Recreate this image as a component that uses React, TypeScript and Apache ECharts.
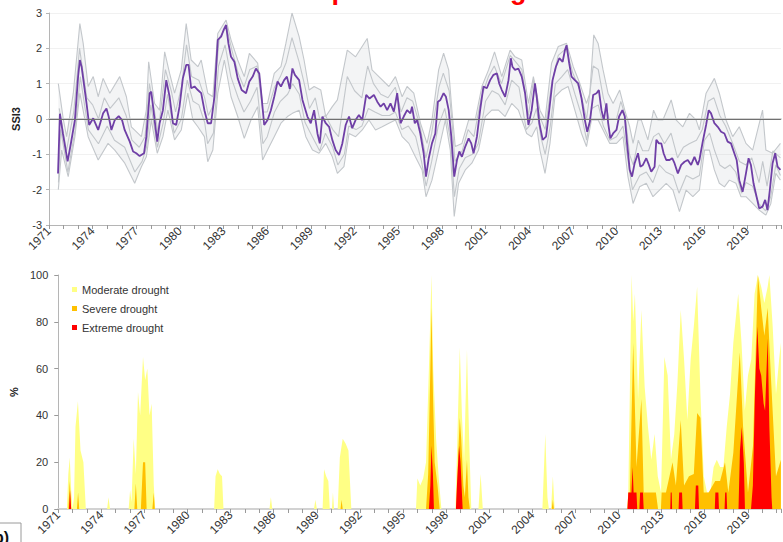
import { useEffect, useRef } from 'react';
import * as echarts from 'echarts';

// ---------- data ----------
const seriesNames = ['Moderate drought', 'Severe drought', 'Extreme drought'];
const ssiTickValues = [-3, -2, -1, 0, 1, 2, 3];

// SSI3 (purple) [year, value]
const ssiMain: [number, number][] = [
  [1971.62,-1.54],[1971.75,0.15],[1971.95,-0.4],[1972.28,-1.2],[1972.5,-0.7],[1972.78,-0.03],[1973.0,1.2],[1973.12,1.67],[1973.24,1.48],[1973.58,0.44],[1973.76,-0.17],[1974.04,0.02],[1974.38,-0.31],[1974.72,0.16],[1974.95,0.3],[1975.1,0.07],[1975.29,-0.31],[1975.52,-0.03],[1975.79,0.08],[1976.02,-0.03],[1976.2,-0.31],[1976.55,-0.64],[1976.78,-0.92],[1977.0,-0.97],[1977.23,-1.05],[1977.53,-0.97],[1977.69,-0.5],[1977.92,0.73],[1978.03,0.77],[1978.26,-0.03],[1978.44,-0.64],[1978.6,-0.12],[1978.83,0.25],[1979.06,1.1],[1979.29,0.63],[1979.52,-0.12],[1979.74,-0.17],[1979.97,0.35],[1980.2,1.15],[1980.43,1.53],[1980.59,1.53],[1980.77,0.87],[1981.0,0.92],[1981.23,0.82],[1981.46,0.73],[1981.68,0.25],[1981.91,-0.12],[1982.14,-0.12],[1982.37,0.63],[1982.6,2.24],[1982.83,2.33],[1983.0,2.52],[1983.17,2.66],[1983.33,2.14],[1983.51,1.76],[1983.74,1.62],[1983.97,1.15],[1984.24,0.82],[1984.54,0.73],[1984.77,1.06],[1985.0,1.2],[1985.22,1.43],[1985.45,1.29],[1985.61,0.63],[1985.79,-0.17],[1986.02,-0.03],[1986.25,0.25],[1986.48,0.63],[1986.71,1.06],[1986.94,0.92],[1987.16,1.1],[1987.35,1.2],[1987.55,0.85],[1987.73,1.43],[1987.9,1.25],[1988.19,1.1],[1988.42,0.54],[1988.76,0.07],[1988.99,-0.12],[1989.22,0.25],[1989.45,-0.41],[1989.61,-0.69],[1989.79,0.07],[1990.02,-0.12],[1990.25,-0.22],[1990.47,-0.59],[1990.7,-0.88],[1990.93,-1.02],[1991.16,-0.69],[1991.39,-0.17],[1991.62,0.07],[1991.84,-0.26],[1992.07,-0.03],[1992.3,0.11],[1992.53,-0.03],[1992.8,0.68],[1993.03,0.58],[1993.33,0.68],[1993.56,0.49],[1993.79,0.35],[1994.01,0.44],[1994.24,0.25],[1994.47,0.44],[1994.7,0.21],[1994.93,0.73],[1995.16,-0.12],[1995.38,0.07],[1995.61,0.25],[1995.84,0.16],[1995.95,0.35],[1996.14,-0.12],[1996.3,-0.03],[1996.52,-0.41],[1996.75,-0.97],[1996.91,-1.63],[1997.1,-1.11],[1997.32,-0.69],[1997.55,-0.41],[1997.73,0.49],[1997.9,0.54],[1998.12,0.73],[1998.28,0.63],[1998.47,0.25],[1998.65,-0.5],[1998.85,-1.63],[1999.04,-1.16],[1999.2,-0.92],[1999.38,-1.07],[1999.61,-0.78],[1999.84,-0.55],[2000.02,-0.69],[2000.18,-0.97],[2000.41,-0.5],[2000.63,0.25],[2000.86,0.92],[2001.09,0.87],[2001.32,1.1],[2001.55,1.25],[2001.78,1.29],[2001.94,1.01],[2002.12,0.82],[2002.35,0.63],[2002.58,1.1],[2002.74,1.72],[2002.85,1.48],[2003.03,1.39],[2003.26,1.43],[2003.49,1.2],[2003.72,0.73],[2003.95,-0.17],[2004.17,0.25],[2004.4,1.01],[2004.52,0.63],[2004.7,-0.12],[2004.93,-0.59],[2005.16,-0.5],[2005.38,0.25],[2005.61,1.1],[2005.84,1.48],[2006.07,1.72],[2006.3,1.62],[2006.46,1.95],[2006.57,2.09],[2006.75,1.58],[2006.91,1.2],[2007.14,1.1],[2007.37,1.01],[2007.6,0.58],[2007.83,-0.03],[2007.99,-0.36],[2008.17,-0.08],[2008.4,0.68],[2008.63,0.73],[2008.79,0.82],[2008.97,0.25],[2009.13,-0.03],[2009.31,0.44],[2009.43,-0.12],[2009.58,-0.55],[2009.77,-0.41],[2010.0,-0.31],[2010.18,0.07],[2010.41,0.25],[2010.57,0.07],[2010.73,-0.69],[2010.91,-1.44],[2011.07,-1.63],[2011.25,-1.25],[2011.48,-0.97],[2011.64,-1.35],[2011.82,-1.3],[2012.05,-1.11],[2012.23,-1.3],[2012.39,-1.49],[2012.62,-1.35],[2012.74,-0.59],[2012.92,-0.69],[2013.08,-0.69],[2013.24,-0.97],[2013.42,-1.16],[2013.65,-1.16],[2013.83,-1.11],[2013.99,-1.25],[2014.22,-1.54],[2014.45,-1.3],[2014.68,-1.21],[2014.9,-1.16],[2015.13,-1.3],[2015.36,-1.07],[2015.59,-1.3],[2015.7,-1.16],[2015.93,-0.64],[2016.16,-0.17],[2016.34,0.25],[2016.5,0.16],[2016.73,-0.12],[2016.96,-0.22],[2017.19,-0.36],[2017.42,-0.41],[2017.64,-0.64],[2017.87,-0.69],[2018.1,-0.97],[2018.26,-1.16],[2018.44,-1.73],[2018.67,-2.06],[2018.9,-1.54],[2019.08,-1.11],[2019.24,-1.3],[2019.42,-1.82],[2019.63,-2.2],[2019.81,-2.53],[2020.04,-2.48],[2020.22,-2.29],[2020.38,-2.58],[2020.54,-2.01],[2020.73,-1.25],[2020.91,-0.97],[2021.07,-1.35],[2021.27,-1.44]
];

// grey ensemble members: upper envelope
const ssiUpper: [number, number][] = [
  [1971.64,1.0],[1971.98,0],[1972.21,-0.5],[1972.67,0.73],[1973.12,2.7],[1973.35,2.14],[1973.69,0.92],[1974.04,1.2],[1974.38,0.63],[1974.72,1.15],[1975.18,0.73],[1975.86,1.2],[1976.32,0.63],[1976.66,-0.22],[1977.35,-0.5],[1977.69,0.25],[1977.85,1.62],[1978.26,0.44],[1978.6,0.25],[1978.95,1.9],[1979.29,1.29],[1979.63,0.73],[1980.09,1.39],[1980.43,2.7],[1980.77,1.67],[1981.23,1.48],[1981.46,1.67],[1981.91,0.73],[1982.26,0.63],[1982.6,2.42],[1983.17,2.8],[1983.51,2.24],[1983.97,1.67],[1984.42,1.2],[1984.77,1.86],[1985.34,1.58],[1985.68,0.44],[1986.02,0.44],[1986.48,1.29],[1986.94,1.48],[1987.28,2.14],[1987.7,3.0],[1988.19,2.33],[1988.53,1.67],[1988.88,0.82],[1989.22,0.92],[1989.68,0.82],[1990.02,0.07],[1990.47,0.35],[1990.82,0.54],[1991.5,1.95],[1992.07,1.76],[1992.87,2.28],[1993.2,1.39],[1993.67,1.2],[1994.36,0.92],[1994.81,1.2],[1995.27,0.63],[1995.61,0.92],[1996.07,0.73],[1996.53,-0.12],[1996.98,-0.69],[1997.32,-0.03],[1997.78,1.39],[1998.12,1.86],[1998.47,1.39],[1998.69,0.25],[1998.92,-0.78],[1999.38,-0.69],[1999.84,-0.03],[2000.29,-0.03],[2000.75,0.92],[2001.21,1.39],[2001.62,1.9],[2002.12,1.2],[2002.69,1.95],[2003.03,1.76],[2003.49,1.67],[2003.95,0.44],[2004.29,1.2],[2004.74,0.25],[2005.09,-0.03],[2005.54,1.58],[2006.0,2.05],[2006.57,2.14],[2007.03,1.48],[2007.48,1.01],[2007.94,0.44],[2008.17,0.73],[2008.44,2.38],[2008.74,2.14],[2009.08,1.39],[2009.42,0.73],[2009.77,0.44],[2010.22,0.82],[2010.57,0.25],[2010.91,-0.22],[2011.14,-0.69],[2011.48,-0.03],[2011.71,-0.03],[2012.16,-0.59],[2012.55,0.25],[2012.85,-0.03],[2013.19,-0.03],[2013.76,0.54],[2014.11,-0.03],[2014.56,-0.22],[2015.02,0.16],[2015.48,-0.03],[2015.7,-0.31],[2016.16,0.73],[2016.73,1.15],[2017.07,0.73],[2017.53,-0.03],[2017.99,-0.5],[2018.44,-0.22],[2018.9,-0.69],[2019.36,-0.88],[2020.04,0.25],[2020.27,-0.88],[2020.73,-0.97],[2021.27,-0.69]
];

// grey ensemble members: lower envelope
const ssiLower: [number, number][] = [
  [1971.64,-2.0],[1971.87,-0.88],[1972.32,-1.63],[1972.78,-0.5],[1973.12,0.73],[1973.69,-0.5],[1974.38,-1.16],[1975.06,-0.69],[1975.52,-0.88],[1976.21,-1.25],[1976.89,-1.82],[1977.35,-1.35],[1977.69,-1.07],[1978.03,-0.03],[1978.44,-0.97],[1978.83,-0.5],[1979.17,0.25],[1979.63,-0.59],[1980.09,-0.31],[1980.54,0.73],[1980.89,-0.03],[1981.23,-0.22],[1981.68,-0.5],[1981.91,-1.21],[1982.26,-0.88],[1982.6,0.73],[1983.05,1.67],[1983.51,0.63],[1983.97,0.07],[1984.42,-0.55],[1984.88,-0.03],[1985.34,0.35],[1985.68,-1.16],[1986.02,-0.88],[1986.48,-0.5],[1986.94,-0.12],[1987.39,0.07],[1987.73,0.16],[1988.19,0.25],[1988.65,-0.5],[1989.11,-0.88],[1989.56,-0.97],[1990.02,-0.69],[1990.47,-1.07],[1990.82,-1.54],[1991.27,-1.35],[1991.62,-0.41],[1992.07,-0.5],[1992.53,-0.31],[1992.99,-0.03],[1993.44,-0.31],[1993.9,-0.22],[1994.36,-0.12],[1994.81,-0.03],[1995.27,-0.5],[1995.73,-0.69],[1996.18,-1.07],[1996.64,-1.44],[1996.91,-2.2],[1997.32,-1.73],[1997.78,-0.88],[1998.24,-0.03],[1998.58,-0.88],[1998.85,-2.76],[1999.15,-1.82],[1999.61,-1.44],[2000.06,-1.25],[2000.52,-0.88],[2000.98,0.07],[2001.43,0.25],[2001.89,0.25],[2002.35,0.07],[2002.8,0.44],[2003.26,0.25],[2003.83,-0.41],[2004.17,-0.5],[2004.52,-0.22],[2004.74,-0.88],[2005.09,-1.54],[2005.43,-0.69],[2005.77,0.63],[2006.23,0.82],[2006.68,0.92],[2007.14,0.25],[2007.6,-0.41],[2007.94,-0.78],[2008.28,-0.03],[2008.74,-0.03],[2009.08,-0.31],[2009.54,-0.69],[2010.0,-0.69],[2010.45,-0.5],[2010.79,-1.63],[2011.14,-2.39],[2011.59,-1.92],[2012.05,-1.82],[2012.51,-2.2],[2012.96,-2.01],[2013.42,-1.82],[2013.88,-2.01],[2014.33,-2.62],[2014.79,-2.01],[2015.25,-2.2],[2015.7,-2.01],[2016.05,-0.88],[2016.39,-0.88],[2016.73,-1.44],[2017.07,-1.82],[2017.42,-1.92],[2017.76,-1.73],[2018.21,-1.82],[2018.56,-2.2],[2018.9,-2.2],[2019.36,-2.39],[2019.81,-2.58],[2020.27,-2.72],[2020.61,-2.39],[2020.95,-1.54],[2021.27,-1.73]
];

// grey ensemble member running mostly above the purple line
const ssiInnerHigh: [number, number][] = [
  [1971.7,0.3],[1972.2,-0.9],[1972.7,0.2],[1973.1,2.0],[1973.6,0.6],[1974.0,0.4],[1974.4,0.0],[1974.8,0.6],[1975.2,0.3],[1975.8,0.6],[1976.3,0.1],[1976.7,-0.6],[1977.2,-0.8],[1977.6,-0.5],[1977.9,1.0],[1978.3,0.1],[1978.5,-0.4],[1979.0,1.4],[1979.4,0.8],[1979.7,0.2],[1980.1,0.9],[1980.45,2.1],[1980.8,1.2],[1981.3,1.1],[1981.7,0.6],[1981.95,0.1],[1982.3,0.4],[1982.7,2.3],[1983.2,2.6],[1983.6,1.9],[1984.0,1.3],[1984.4,0.9],[1984.8,1.4],[1985.3,1.5],[1985.7,0.2],[1986.0,0.2],[1986.5,0.9],[1986.9,1.2],[1987.3,1.6],[1987.7,2.3],[1988.2,1.6],[1988.6,0.9],[1988.9,0.3],[1989.3,0.6],[1989.6,0.0],[1990.0,0.1],[1990.5,-0.3],[1990.9,-0.5],[1991.5,1.2],[1992.0,0.8],[1992.5,0.6],[1992.9,1.5],[1993.3,1.0],[1993.8,0.7],[1994.3,0.6],[1994.8,0.9],[1995.2,0.2],[1995.6,0.6],[1996.0,0.5],[1996.5,-0.2],[1996.9,-1.1],[1997.3,-0.4],[1997.8,0.9],[1998.1,1.3],[1998.5,0.8],[1998.7,-0.1],[1998.9,-1.2],[1999.4,-0.9],[1999.8,-0.3],[2000.2,-0.5],[2000.7,0.6],[2001.2,1.2],[2001.6,1.5],[2002.1,1.0],[2002.7,1.8],[2003.1,1.6],[2003.5,1.4],[2003.95,0.1],[2004.3,1.1],[2004.7,0.1],[2005.1,-0.3],[2005.5,0.9],[2006.0,1.8],[2006.55,2.0],[2007.0,1.3],[2007.5,0.8],[2007.95,0.0],[2008.4,1.5],[2008.75,1.4],[2009.1,0.6],[2009.5,0.0],[2010.0,0.0],[2010.3,0.5],[2010.6,0.1],[2010.9,-1.0],[2011.15,-1.3],[2011.5,-0.6],[2011.8,-0.9],[2012.2,-0.9],[2012.55,-0.5],[2012.9,-0.4],[2013.3,-0.7],[2013.75,-0.4],[2014.2,-1.1],[2014.6,-0.8],[2015.0,-0.7],[2015.5,-0.6],[2015.9,-0.3],[2016.3,0.5],[2016.7,0.6],[2017.1,0.1],[2017.5,-0.2],[2018.0,-0.7],[2018.45,-1.2],[2018.9,-1.3],[2019.3,-1.1],[2019.8,-1.8],[2020.05,-1.2],[2020.35,-1.9],[2020.75,-0.9],[2021.27,-1.1]
];

// grey ensemble member running mostly below the purple line
const ssiInnerLow: [number, number][] = [
  [1971.65,-1.8],[1971.8,-0.3],[1972.3,-1.5],[1972.8,-0.3],[1973.15,1.2],[1973.7,-0.3],[1974.4,-0.7],[1975.0,-0.2],[1975.5,-0.6],[1976.2,-0.8],[1976.9,-1.5],[1977.4,-1.2],[1977.7,-0.8],[1978.0,0.4],[1978.45,-0.8],[1978.85,-0.1],[1979.15,0.7],[1979.6,-0.4],[1980.1,0.0],[1980.5,1.1],[1980.9,0.5],[1981.3,0.4],[1981.7,-0.1],[1981.9,-0.7],[1982.3,-0.4],[1982.65,1.5],[1983.1,2.1],[1983.5,1.2],[1984.0,0.6],[1984.4,0.2],[1984.85,0.5],[1985.3,0.9],[1985.7,-0.7],[1986.0,-0.5],[1986.5,0.2],[1986.9,0.5],[1987.4,0.7],[1987.75,1.0],[1988.2,0.7],[1988.6,-0.1],[1989.1,-0.5],[1989.6,-0.9],[1990.0,-0.4],[1990.5,-0.8],[1990.85,-1.3],[1991.3,-1.0],[1991.6,-0.2],[1992.1,-0.3],[1992.5,-0.2],[1992.95,0.3],[1993.4,0.2],[1993.9,0.1],[1994.4,0.1],[1994.8,0.2],[1995.25,-0.3],[1995.7,-0.2],[1996.2,-0.5],[1996.6,-1.2],[1996.92,-1.9],[1997.3,-1.2],[1997.75,-0.2],[1998.2,0.3],[1998.6,-0.6],[1998.86,-2.2],[1999.2,-1.4],[1999.6,-1.1],[2000.1,-1.0],[2000.5,-0.7],[2001.0,0.5],[2001.45,0.8],[2001.9,0.7],[2002.35,0.4],[2002.8,1.1],[2003.3,0.9],[2003.8,-0.3],[2004.2,-0.1],[2004.5,0.3],[2004.8,-0.5],[2005.1,-1.0],[2005.45,-0.2],[2005.8,1.0],[2006.25,1.2],[2006.65,1.4],[2007.15,0.7],[2007.6,0.1],[2007.95,-0.6],[2008.3,0.3],[2008.75,0.4],[2009.1,-0.2],[2009.55,-0.6],[2010.0,-0.5],[2010.45,-0.2],[2010.8,-1.2],[2011.1,-2.0],[2011.6,-1.6],[2012.05,-1.5],[2012.5,-1.8],[2012.95,-1.3],[2013.4,-1.5],[2013.9,-1.6],[2014.3,-2.1],[2014.8,-1.6],[2015.25,-1.7],[2015.7,-1.6],[2016.05,-0.6],[2016.4,-0.4],[2016.75,-0.9],[2017.1,-1.3],[2017.45,-1.4],[2017.8,-1.3],[2018.2,-1.5],[2018.6,-2.1],[2018.9,-1.8],[2019.35,-1.9],[2019.8,-2.4],[2020.25,-2.6],[2020.6,-2.2],[2020.95,-1.3],[2021.27,-1.6]
];

// % area in drought [year, percent]
const moderateDrought: [number, number][] = [
  [1971.6,0],[1971.7,15],[1971.8,22],[1971.9,8],[1972.0,0],[1972.1,5],[1972.2,35],[1972.37,46],[1972.55,25],[1972.75,20],[1972.92,0],
  [1974.4,0],[1974.5,5],[1974.6,0],
  [1975.9,0],[1976.0,8],[1976.1,3],[1976.25,30],[1976.4,15],[1976.55,50],[1976.7,40],[1976.9,65],[1977.05,55],[1977.2,60],[1977.35,40],[1977.5,45],[1977.65,10],[1977.75,0],
  [1981.85,0],[1981.95,14],[1982.1,17],[1982.25,15],[1982.4,14],[1982.5,0],
  [1985.7,0],[1985.8,5],[1985.9,0],
  [1988.8,0],[1988.9,4],[1989.0,0],
  [1989.4,0],[1989.5,17],[1989.65,14],[1989.8,12],[1989.9,0],[1990.05,0],[1990.12,7],[1990.2,0],
  [1990.45,0],[1990.6,22],[1990.8,30],[1991.0,28],[1991.2,25],[1991.4,0],
  [1995.9,0],[1996.0,13],[1996.2,10],[1996.4,13],[1996.6,20],[1996.8,60],[1996.98,100],[1997.1,60],[1997.3,30],[1997.5,12],[1997.67,0],
  [1998.65,0],[1998.8,35],[1998.95,69],[1999.1,40],[1999.25,20],[1999.35,45],[1999.45,68],[1999.6,30],[1999.75,0],
  [2000.25,0],[2000.4,15],[2000.55,0],
  [2004.7,0],[2004.9,32],[2005.05,5],[2005.15,0],[2005.3,0],[2005.43,14],[2005.55,0],
  [2010.6,0],[2010.68,7],[2010.91,100],[2011.02,80],[2011.14,92],[2011.36,47],[2011.59,85],[2011.82,52],[2012.05,35],[2012.28,21],[2012.51,32],[2012.73,14],[2012.96,7],[2013.19,65],[2013.42,57],[2013.65,21],[2013.88,32],[2014.1,54],[2014.33,85],[2014.56,64],[2014.79,38],[2015.02,64],[2015.24,78],[2015.47,95],[2015.7,49],[2015.93,14],[2016.16,7],[2016.39,7],[2016.62,18],[2016.84,21],[2017.07,18],[2017.3,18],[2017.53,35],[2017.76,49],[2017.99,71],[2018.33,92],[2018.56,71],[2018.79,42],[2019.01,57],[2019.24,64],[2019.47,92],[2019.7,100],[2019.93,95],[2020.15,88],[2020.38,95],[2020.5,100],[2020.73,78],[2020.96,49],[2021.18,64],[2021.3,71]
];

const severeDrought: [number, number][] = [
  [1971.7,0],[1971.8,12],[1971.9,0],[1972.3,0],[1972.38,7],[1972.46,0],
  [1976.3,0],[1976.4,11],[1976.5,0],[1976.75,0],[1976.9,20],[1977.05,20],[1977.15,0],[1977.55,0],[1977.65,7],[1977.72,0],
  [1990.65,0],[1990.72,4],[1990.8,0],
  [1996.6,0],[1996.75,15],[1996.9,60],[1996.98,86],[1997.08,50],[1997.2,20],[1997.4,10],[1997.55,0],
  [1998.7,0],[1998.85,25],[1998.95,39],[1999.05,30],[1999.2,10],[1999.3,5],[1999.45,21],[1999.55,5],[1999.65,0],
  [2005.35,0],[2005.43,4],[2005.5,0],
  [2010.62,0],[2010.68,7],[2010.79,7],[2011.02,71],[2011.25,18],[2011.59,47],[2011.75,7],[2012.6,7],[2012.75,0],[2012.95,0],[2013.0,7],[2013.3,7],[2013.76,20],[2013.99,10],[2014.33,38],[2014.56,10],[2014.9,14],[2015.24,15],[2015.47,41],[2015.7,39],[2015.93,7],[2016.27,7],[2016.73,12],[2017.07,12],[2017.41,20],[2017.64,7],[2017.99,24],[2018.44,67],[2018.67,35],[2019.01,7],[2019.36,27],[2019.7,100],[2019.93,86],[2020.15,74],[2020.38,86],[2020.61,56],[2020.96,14],[2021.3,21]
];

const extremeDrought: [number, number][] = [
  [1971.75,0],[1971.82,8],[1971.9,0],
  [1996.8,0],[1996.9,10],[1996.98,27],[1997.08,15],[1997.15,0],
  [1998.68,0],[1998.75,10],[1998.9,27],[1999.0,20],[1999.15,0],
  [2010.62,0],[2010.68,7],[2010.9,7],[2010.98,18],[2011.05,7],[2011.25,7],[2011.3,0],
  [2011.45,0],[2011.5,7],[2011.7,7],[2011.75,0],
  [2013.6,0],[2013.63,7],[2013.7,7],[2013.73,0],
  [2014.18,0],[2014.22,7],[2014.42,7],[2014.46,0],
  [2015.32,0],[2015.38,10],[2015.55,10],[2015.6,0],
  [2016.7,0],[2016.74,7],[2016.95,7],[2016.99,0],
  [2017.38,0],[2017.42,7],[2017.52,7],[2017.56,0],
  [2018.35,0],[2018.45,25],[2018.58,35],[2018.72,20],[2018.8,0],
  [2019.22,0],[2019.35,10],[2019.5,50],[2019.66,78],[2019.8,60],[2019.93,57],[2020.1,45],[2020.2,42],[2020.38,73],[2020.5,35],[2020.65,5],[2020.7,0]
];

const X_MIN = 1971;
const X_MAX = 2021.3;
const LABEL_STEP = 3;

const FONT = 'Liberation Sans, Arial, sans-serif';
const GREY = '#c3c7cb';

function yearLabel(v: number): string {
  const r = Math.round(v);
  if (Math.abs(v - r) > 1e-6) return '';
  return (r - X_MIN) % LABEL_STEP === 0 ? String(r) : '';
}

function makeXAxis(gridIndex: number) {
  return {
    type: 'value',
    gridIndex,
    min: X_MIN,
    max: X_MAX,
    interval: 1,
    axisLine: { onZero: false, lineStyle: { color: '#b5b5b5', width: 1 } },
    axisTick: { show: true, length: 4, lineStyle: { color: '#9a9a9a' } },
    splitLine: { show: false },
    axisLabel: {
      rotate: 45,
      margin: 4,
      fontSize: 12,
      fontFamily: FONT,
      color: '#333',
      formatter: yearLabel,
    },
  };
}

function makeTopFrame(gridIndex: number) {
  return {
    type: 'value',
    gridIndex,
    position: 'top',
    min: X_MIN,
    max: X_MAX,
    axisLine: { show: true, lineStyle: { color: '#d2d2d2', width: 2 } },
    axisTick: { show: false },
    axisLabel: { show: false },
    splitLine: { show: false },
  };
}

function greyLine(name: string, data: [number, number][]) {
  return {
    type: 'line',
    name,
    xAxisIndex: 0,
    yAxisIndex: 0,
    data,
    symbol: 'none',
    silent: true,
    z: 2,
    lineStyle: { color: GREY, width: 1.1 },
  };
}

export default function App() {
  const ref = useRef<HTMLDivElement>(null);

  useEffect(() => {
    if (!ref.current) return;
    const chart = echarts.init(ref.current, null, { renderer: 'svg' });

    const option: any = {
      animation: false,
      backgroundColor: '#ffffff',
      textStyle: { fontFamily: FONT },
      grid: [
        { left: 49, right: 0, top: 13, height: 212, containLabel: false },
        { left: 49, right: 0, top: 275, height: 234, containLabel: false },
      ],
      legend: {
        data: seriesNames,
        orient: 'vertical',
        left: 67,
        top: 278,
        icon: 'rect',
        itemWidth: 5,
        itemHeight: 5,
        itemGap: 6,
        textStyle: { fontSize: 11, color: '#333', fontFamily: FONT, lineHeight: 13 },
        selectedMode: false,
      },
      xAxis: [makeXAxis(0), makeXAxis(1), makeTopFrame(0), makeTopFrame(1)],
      yAxis: [
        {
          type: 'value',
          gridIndex: 0,
          min: ssiTickValues[0],
          max: ssiTickValues[ssiTickValues.length - 1],
          interval: 1,
          name: 'SSI3',
          nameLocation: 'middle',
          nameGap: 27,
          nameTextStyle: { fontSize: 11, fontWeight: 'bold', color: '#222', fontFamily: FONT },
          axisLine: { show: true, lineStyle: { color: '#b5b5b5' } },
          axisTick: { show: true, length: 3, lineStyle: { color: '#b5b5b5' } },
          axisLabel: { fontSize: 11, color: '#333', margin: 7, fontFamily: FONT },
          splitLine: { show: true, lineStyle: { color: '#f1f1f1', width: 1 } },
        },
        {
          type: 'value',
          gridIndex: 1,
          min: 0,
          max: 100,
          interval: 20,
          name: '%',
          nameLocation: 'middle',
          nameGap: 34,
          nameTextStyle: { fontSize: 11, fontWeight: 'bold', color: '#222', fontFamily: FONT },
          axisLine: { show: true, lineStyle: { color: '#b5b5b5' } },
          axisTick: { show: true, length: 4, lineStyle: { color: '#9a9a9a' } },
          axisLabel: { fontSize: 11, color: '#333', margin: 10, fontFamily: FONT },
          splitLine: { show: false },
        },
      ],
      series: [
        {
          type: 'custom',
          name: 'ensemble band',
          xAxisIndex: 0,
          yAxisIndex: 0,
          silent: true,
          z: 1,
          data: [[X_MIN, 0]],
          renderItem: (params: any, api: any) => {
            if (params.dataIndex !== 0) return null;
            const pts = ssiUpper
              .map((p) => api.coord(p))
              .concat(ssiLower.slice().reverse().map((p) => api.coord(p)));
            return {
              type: 'polygon',
              shape: { points: pts },
              style: { fill: 'rgba(196,200,204,0.2)' },
            };
          },
        },
        greyLine('ensemble upper', ssiUpper),
        greyLine('ensemble lower', ssiLower),
        greyLine('ensemble member a', ssiInnerHigh),
        greyLine('ensemble member b', ssiInnerLow),
        {
          type: 'line',
          name: 'SSI3',
          xAxisIndex: 0,
          yAxisIndex: 0,
          data: ssiMain,
          symbol: 'none',
          silent: true,
          z: 4,
          lineStyle: { color: '#6f3fa6', width: 1.8 },
          markLine: {
            silent: true,
            symbol: 'none',
            label: { show: false },
            lineStyle: { color: '#707070', width: 1, type: 'solid' },
            data: [{ yAxis: 0 }],
          },
        },
        {
          type: 'line',
          name: seriesNames[0],
          xAxisIndex: 1,
          yAxisIndex: 1,
          data: moderateDrought,
          symbol: 'none',
          silent: true,
          z: 2,
          itemStyle: { color: '#ffff85' },
          lineStyle: { width: 0, color: '#ffff85' },
          areaStyle: { color: '#ffff85', opacity: 1 },
        },
        {
          type: 'line',
          name: seriesNames[1],
          xAxisIndex: 1,
          yAxisIndex: 1,
          data: severeDrought,
          symbol: 'none',
          silent: true,
          z: 3,
          itemStyle: { color: '#ffc000' },
          lineStyle: { width: 0, color: '#ffc000' },
          areaStyle: { color: '#ffc000', opacity: 1 },
        },
        {
          type: 'line',
          name: seriesNames[2],
          xAxisIndex: 1,
          yAxisIndex: 1,
          data: extremeDrought,
          symbol: 'none',
          silent: true,
          z: 4,
          itemStyle: { color: '#ff0000' },
          lineStyle: { width: 0, color: '#ff0000' },
          areaStyle: { color: '#ff0000', opacity: 1 },
        },
      ],
      graphic: [
        {
          type: 'text',
          x: 300,
          y: 3,
          silent: true,
          style: {
            text: 'Impacts on drought',
            fontSize: 27,
            fontWeight: 'bold',
            fontFamily: FONT,
            fill: '#ff0000',
            textAlign: 'left',
            textVerticalAlign: 'bottom',
            align: 'left',
            verticalAlign: 'bottom',
          },
        },
        {
          type: 'rect',
          silent: true,
          shape: { x: -4, y: 523, width: 25, height: 30 },
          style: { fill: '#ffffff', stroke: '#9a9a9a', lineWidth: 1 },
        },
        {
          type: 'text',
          x: -6,
          y: 529,
          silent: true,
          style: {
            text: 'b)',
            fontSize: 16,
            fontWeight: 'bold',
            fontFamily: FONT,
            fill: '#111',
          },
        },
      ],
    };

    chart.setOption(option);
    return () => chart.dispose();
  }, []);

  return (
    <div
      ref={ref}
      style={{ position: 'fixed', left: 0, top: 0, width: 783, height: 542, background: '#fff' }}
    />
  );
}
